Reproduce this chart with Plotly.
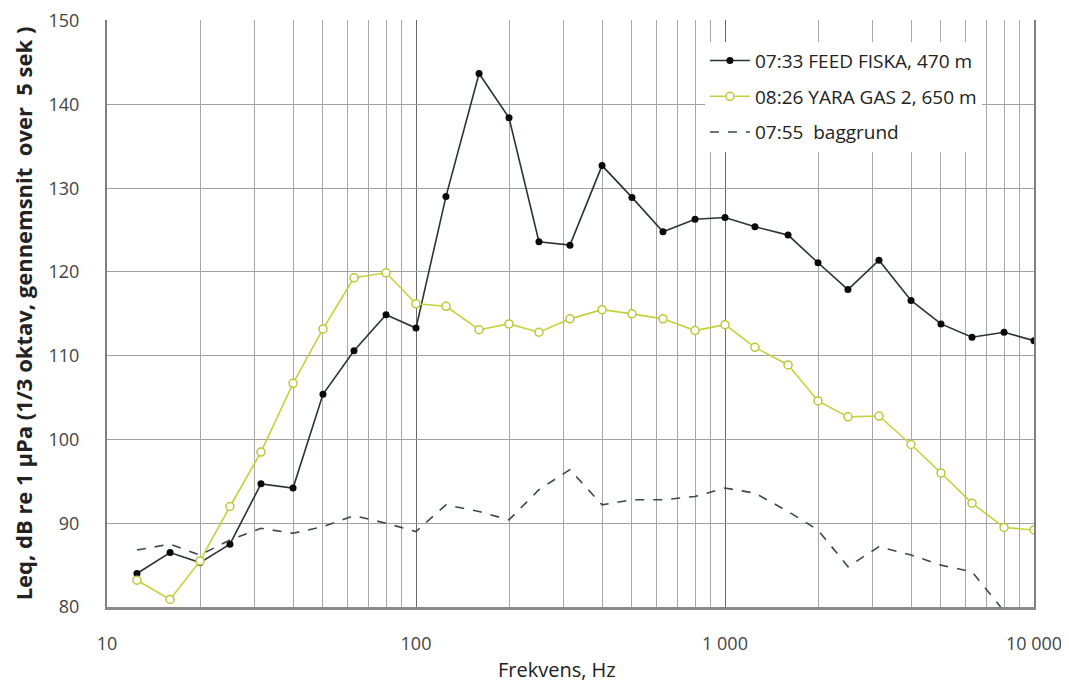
import plotly.graph_objects as go

freqs = [12.5, 16, 20, 25, 31.5, 40, 50, 63, 80, 100, 125, 160, 200, 250, 315,
         400, 500, 630, 800, 1000, 1250, 1600, 2000, 2500, 3150, 4000, 5000, 6300, 8000, 10000]

feed_fiska = [84.0, 86.5, 85.3, 87.5, 94.7, 94.2, 105.4, 110.6, 114.9, 113.3, 129.0, 143.7, 138.4, 123.6, 123.2,
              132.7, 128.9, 124.8, 126.3, 126.5, 125.4, 124.4, 121.1, 117.9, 121.4, 116.6, 113.8, 112.2, 112.8, 111.8]

yara_gas = [83.2, 80.9, 85.5, 92.0, 98.5, 106.7, 113.2, 119.3, 119.9, 116.2, 115.9, 113.1, 113.8, 112.8, 114.4,
            115.5, 115.0, 114.4, 113.0, 113.7, 111.0, 108.9, 104.6, 102.7, 102.8, 99.4, 96.0, 92.4, 89.5, 89.2]

baggrund = [86.8, 87.5, 86.2, 88.0, 89.4, 88.8, 89.6, 90.9, 90.0, 89.0, 92.2, 91.4, 90.4, 94.0, 96.4,
            92.2, 92.8, 92.8, 93.2, 94.2, 93.6, 91.4, 89.2, 84.8, 87.2, 86.2, 85.0, 84.2, 79.5, None]

x_tickvals = [10, 100, 1000, 10000]
x_ticktext = ["10", "100", "1 000", "10 000"]
x_minor = [m * d for d in (10, 100, 1000) for m in range(2, 10)]
y_tickvals = [80, 90, 100, 110, 120, 130, 140, 150]

fig = go.Figure()
fig.add_trace(go.Scatter(
    x=freqs, y=feed_fiska, mode="lines+markers", name="07:33 FEED FISKA, 470 m",
    legendgroup="a",
    line=dict(color="#2b3333", width=1.6),
    marker=dict(color="#0a0a0a", size=7, symbol="circle"),
))
fig.add_trace(go.Scatter(
    x=freqs, y=yara_gas, mode="lines+markers", name="08:26 YARA GAS 2, 650 m",
    legendgroup="b",
    line=dict(color="#c3d23c", width=1.6),
    marker=dict(color="white", size=8, symbol="circle", line=dict(color="#b9c93a", width=1.5)),
))
fig.add_trace(go.Scatter(
    x=freqs, y=baggrund, mode="lines", name="07:55  baggrund",
    legendgroup="c",
    line=dict(color="#3d4750", width=1.6, dash="dash"),
))

fig.update_layout(
    width=1061, height=674,
    margin=dict(l=99, r=35, t=12, b=75, autoexpand=False),
    paper_bgcolor="white", plot_bgcolor="white",
    font=dict(family="Open Sans, Liberation Sans, sans-serif", color="#333333"),
    showlegend=True,
    legend=dict(
        x=0.645, y=0.963, xanchor="left", yanchor="top",
        bgcolor="white", borderwidth=0,
        font=dict(size=19, color="#222222", family="Open Sans, sans-serif"),
        itemwidth=40, tracegroupgap=8,
    ),
    annotations=[dict(
        text="Frekvens, Hz", xref="paper", yref="paper", x=0.485, y=-0.107,
        xanchor="center", yanchor="middle", showarrow=False,
        font=dict(size=20, color="#222222", family="Open Sans, sans-serif"),
    )],
)

fig.update_xaxes(
    type="log", range=[1, 4], automargin=False,
    tickvals=x_tickvals, ticktext=x_ticktext,
    showgrid=True, gridcolor="#6a6a6a", gridwidth=1,
    minor=dict(tickvals=x_minor, showgrid=True, gridcolor="#a8a8a8", gridwidth=1, ticks=""),
    showline=True, linecolor="#8a8a8a", linewidth=3, mirror=False,
    ticks="", ticklabelstandoff=18, ticklabeloverflow="allow",
    tickfont=dict(size=18, color="#444444"),
    zeroline=False,
)
fig.update_yaxes(
    range=[80, 150.08], tickvals=y_tickvals, automargin=False,
    showgrid=True, gridcolor="#a0a0a0", gridwidth=1,
    showline=True, linecolor="#808080", linewidth=2, mirror=True,
    ticks="", ticklabelstandoff=22, ticklabeloverflow="allow",
    tickfont=dict(size=18, color="#444444"),
    title=dict(text="<b>Leq, dB re 1 µPa (1/3 oktav, gennemsnit  over  5 sek )</b>",
               font=dict(size=22, color="#222222"), standoff=10),
    zeroline=False,
)

fig.write_html("out.html")
